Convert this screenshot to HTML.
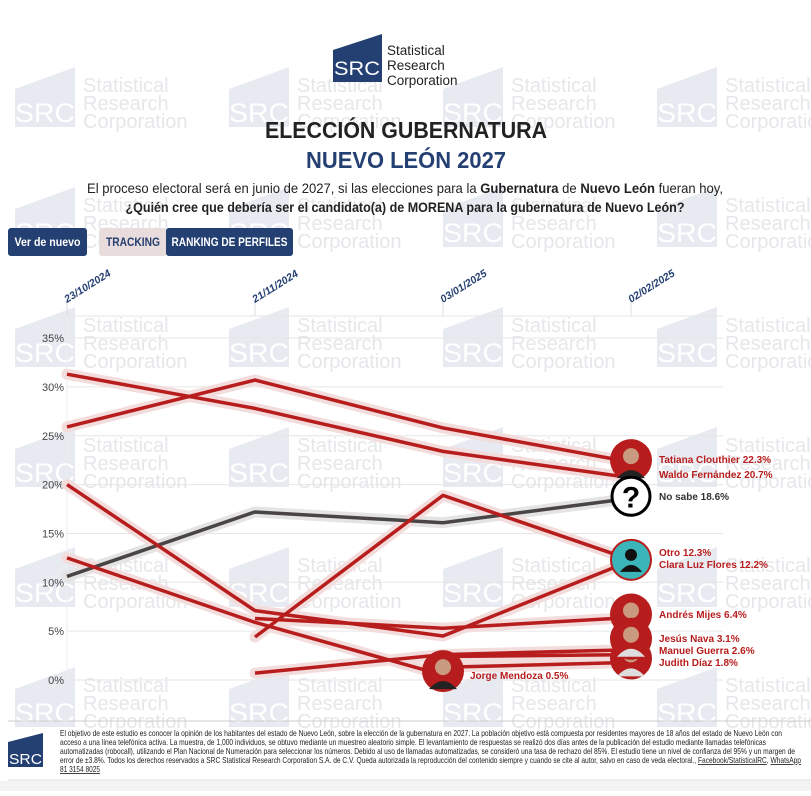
<!DOCTYPE html>
<html><head><meta charset="utf-8"><style>
html,body{margin:0;padding:0;background:#fff;}
svg text{font-family:"Liberation Sans",sans-serif;}
</style></head><body>
<svg id="chart" width="811" height="791" viewBox="0 0 811 791" xmlns="http://www.w3.org/2000/svg">
<rect x="0" y="0" width="811" height="791" fill="#fff"/>
<rect x="0" y="781" width="811" height="10" fill="#f3f3f3"/>
<g id="wm"></g>
<g id="logo">
 <polygon points="333,50 382,34 382,82 333,82" fill="#243f72"/>
 <text x="357" y="75" font-size="19" fill="#fff" text-anchor="middle" textLength="46" lengthAdjust="spacingAndGlyphs">SRC</text>
 <text x="387" y="55" font-size="13.5" fill="#222">Statistical</text>
 <text x="387" y="70" font-size="13.5" fill="#222">Research</text>
 <text x="387" y="85" font-size="13.5" fill="#222">Corporation</text>
</g>
<text x="406" y="138" font-size="23" font-weight="bold" fill="#222" text-anchor="middle" textLength="282" lengthAdjust="spacingAndGlyphs">ELECCIÓN GUBERNATURA</text>
<text x="406" y="168" font-size="23" font-weight="bold" fill="#243f72" text-anchor="middle" textLength="200" lengthAdjust="spacingAndGlyphs">NUEVO LEÓN 2027</text>
<text x="405" y="193" font-size="14" fill="#222" text-anchor="middle" textLength="636" lengthAdjust="spacingAndGlyphs">El proceso electoral será en junio de 2027, si las elecciones para la <tspan font-weight="bold">Gubernatura</tspan> de <tspan font-weight="bold">Nuevo León</tspan> fueran hoy,</text>
<text x="405" y="212" font-size="14" font-weight="bold" fill="#222" text-anchor="middle" textLength="559" lengthAdjust="spacingAndGlyphs">¿Quién cree que debería ser el candidato(a) de MORENA para la gubernatura de Nuevo León?</text>
<g><rect x="8" y="228" width="79" height="28" rx="3" fill="#243f72"/><text x="47.5" y="246" font-size="12" font-weight="bold" fill="#fff" text-anchor="middle" textLength="66" lengthAdjust="spacingAndGlyphs">Ver de nuevo</text></g>
<g><rect x="99" y="228" width="68" height="28" rx="3" fill="#e9dcdc"/><text x="133" y="246" font-size="12" font-weight="bold" fill="#243f72" text-anchor="middle" textLength="54" lengthAdjust="spacingAndGlyphs">TRACKING</text></g>
<g><rect x="166" y="228" width="127" height="28" rx="3" fill="#243f72"/><text x="229.5" y="246" font-size="12" font-weight="bold" fill="#fff" text-anchor="middle" textLength="116" lengthAdjust="spacingAndGlyphs">RANKING DE PERFILES</text></g>
<g id="axes"></g>
<g id="series"></g>
<g id="avatars"></g>
<line x1="8" y1="721" x2="811" y2="721" stroke="#ccc" stroke-width="1"/>
<line x1="8" y1="780" x2="811" y2="780" stroke="#ddd" stroke-width="1"/>
<g><polygon points="8,742 43,733 43,767 8,767" fill="#243f72"/><text x="25.5" y="764" font-size="15" fill="#fff" text-anchor="middle" textLength="33" lengthAdjust="spacingAndGlyphs">SRC</text></g>
<g font-size="8.5" fill="#222">
<text x="60" y="736" textLength="722" lengthAdjust="spacingAndGlyphs">El objetivo de este estudio es conocer la opinión de los habitantes del estado de Nuevo León, sobre la elección de la gubernatura en 2027. La población objetivo está compuesta por residentes mayores de 18 años del estado de Nuevo León con</text>
<text x="60" y="745" textLength="706" lengthAdjust="spacingAndGlyphs">acceso a una línea telefónica activa. La muestra, de 1,000 individuos, se obtuvo mediante un muestreo aleatorio simple. El levantamiento de respuestas se realizó dos días antes de la publicación del estudio mediante llamadas telefónicas</text>
<text x="60" y="754" textLength="735" lengthAdjust="spacingAndGlyphs">automatizadas (robocall), utilizando el Plan Nacional de Numeración para seleccionar los números. Debido al uso de llamadas automatizadas, se consideró una tasa de rechazo del 85%. El estudio tiene un nivel de confianza del 95% y un margen de</text>
<text x="60" y="763" textLength="741" lengthAdjust="spacingAndGlyphs">error de ±3.8%. Todos los derechos reservados a SRC Statistical Research Corporation S.A. de C.V. Queda autorizada la reproducción del contenido siempre y cuando se cite al autor, salvo en caso de veda electoral., <tspan text-decoration="underline">Facebook/StatisticalRC</tspan>, <tspan text-decoration="underline">WhatsApp</tspan></text>
<text x="60" y="772" textLength="40" lengthAdjust="spacingAndGlyphs" text-decoration="underline">81 3154 8025</text>
</g>
</svg>
<script>
const dates = ["23/10/2024","21/11/2024","03/01/2025","02/02/2025"];
const yTicks = [0,5,10,15,20,25,30,35];
const names = ["Tatiana Clouthier","Waldo Fernández","No sabe","Otro","Clara Luz Flores","Andrés Mijes","Jorge Mendoza","Jesús Nava","Manuel Guerra","Judith Díaz"];
const tatiana = [25.9,30.7,25.8,22.3];
const waldo = [31.3,27.8,23.4,20.7];
const noSabe = [10.6,17.2,16.1,18.6];
const otro = [null,4.4,18.9,12.3];
const clara = [20.0,7.1,4.5,12.2];
const andres = [null,6.3,5.3,6.4];
const jorge = [12.5,5.9,0.5,null];
const jesus = [null,0.7,2.6,3.1];
const manuel = [null,null,2.4,2.6];
const judith = [null,null,1.3,1.8];
const allSeries = [tatiana,waldo,noSabe,otro,clara,andres,jorge,jesus,manuel,judith];

const NS="http://www.w3.org/2000/svg";
function el(tag,attrs,parent){const e=document.createElementNS(NS,tag);for(const k in attrs)e.setAttribute(k,attrs[k]);if(parent)parent.appendChild(e);return e;}
const xScale=i=>67+i*188;
const yScale=v=>680-v*9.77;

// watermarks
const wm=document.getElementById('wm');
for(let r=0;r<6;r++)for(let c=0;c<4;c++){
 const x=15+c*214,y=67+r*120;
 const g=el('g',{},wm);
 
 
 el('polygon',{points:`${x},${y+22} ${x+60},${y} ${x+60},${y+60} ${x},${y+60}`,fill:'#e7eaf0'},g);
 const t=el('text',{x:x+30,y:y+55,'font-size':27,fill:'#fff','text-anchor':'middle',textLength:60,lengthAdjust:'spacingAndGlyphs'},g);t.textContent='SRC';
 ['Statistical','Research','Corporation'].forEach((s,i)=>{const tt=el('text',{x:x+68,y:y+25+i*18,'font-size':20,fill:'#e6e7ea'},g);tt.textContent=s;});
}

// axes
const ax=document.getElementById('axes');
el('line',{x1:67,y1:316,x2:723,y2:316,stroke:'#e6e6e6'},ax);
yTicks.forEach(v=>{
 const l=el('line',{x1:67,y1:yScale(v),x2:723,y2:yScale(v),stroke:'#e6e6e6'},ax);
 
 
 const t=el('text',{x:64,y:yScale(v)+4,'font-size':11,fill:'#444','text-anchor':'end'},ax);
 
 
 t.textContent=v+'%';
});
el('line',{x1:67,y1:316,x2:67,y2:680,stroke:'#eee'},ax);
dates.forEach((d,i)=>{
 const x=xScale(i);
 el('line',{x1:x,y1:300,x2:x,y2:316,stroke:'#ddd'},ax);
 const t=el('text',{x:x,y:303,'font-size':10.5,'font-weight':'bold','font-style':'italic',fill:'#243f72',transform:`rotate(-32 ${x} 303)`},ax);
 
 
 t.textContent=d;
});

// series
const sg=document.getElementById('series');
allSeries.forEach((s,si)=>{
 const pts=[];s.forEach((v,i)=>{if(v!==null)pts.push(xScale(i)+','+yScale(v));});
 const grey=si===2;
 const halo=el('polyline',{points:pts.join(' '),fill:'none',stroke:grey?'#e4e4e4':'#f2dcdc','stroke-width':11,'stroke-linejoin':'round','stroke-linecap':'round'},sg);
 
 
});
allSeries.forEach((s,si)=>{
 const pts=[];s.forEach((v,i)=>{if(v!==null)pts.push(xScale(i)+','+yScale(v));});
 const grey=si===2;
 const p=el('polyline',{points:pts.join(' '),fill:'none',stroke:grey?'#4a4545':'#b81d1d','stroke-width':3.5,'stroke-linejoin':'round'},sg);
 
 
});

// avatars & labels
const av=document.getElementById('avatars');
function avatar(cx,cy,kind){
 const g=el('g',{},av);
 
 
 if(kind==='q'){el('circle',{cx,cy,r:19,fill:'#fff',stroke:'#000','stroke-width':3},g);
  const t=el('text',{x:cx,y:cy+11,'font-size':30,'font-weight':'bold','text-anchor':'middle',fill:'#000'},g);t.textContent='?';return;}
 if(kind==='p'){el('circle',{cx,cy,r:20,fill:'#3bb5b9',stroke:'#b81d1d','stroke-width':2},g);
  el('circle',{cx,cy:cy-5,r:6,fill:'#111'},g);el('path',{d:`M${cx-11},${cy+12} Q${cx},${cy-2} ${cx+11},${cy+12} Z`,fill:'#111'},g);return;}
 el('circle',{cx,cy,r:21,fill:'#b81d1d'},g);
 el('circle',{cx,cy:cy-4,r:8,fill:'#c99a80'},g);
 el('path',{d:`M${cx-14},${cy+18} Q${cx},${cy+2} ${cx+14},${cy+18} Z`,fill:kind==='w'?'#ddd':'#222'},g);
}
const lastIdx=s=>{for(let i=s.length-1;i>=0;i--)if(s[i]!==null)return i;};
avatar(xScale(3),yScale(22.3)-2,'f');
avatar(xScale(3),yScale(18.6)-2,'q');
avatar(xScale(3),yScale(12.3)-0,'p');
avatar(xScale(3),yScale(6.4)-3,'f');
avatar(xScale(3),yScale(1.8)-4,'w');
avatar(xScale(3),yScale(3.1)-11,'w');
avatar(xScale(2),yScale(0.5)-4,'f');
const labelY=[463,478,500,556,568,618,0,642,654,666];
names.forEach((n,i)=>{
 const s=allSeries[i];const li=lastIdx(s);const v=s[li];
 let x=659,y=labelY[i];
 if(i===6){x=xScale(2)+27;y=yScale(0.5)+4;}
 const t=el('text',{x,y,'font-size':10,'font-weight':'bold',fill:i===2?'#333':'#b81d1d'},av);
 
 
 t.textContent=n+' '+v+'%';
});
</script>
</body></html>
